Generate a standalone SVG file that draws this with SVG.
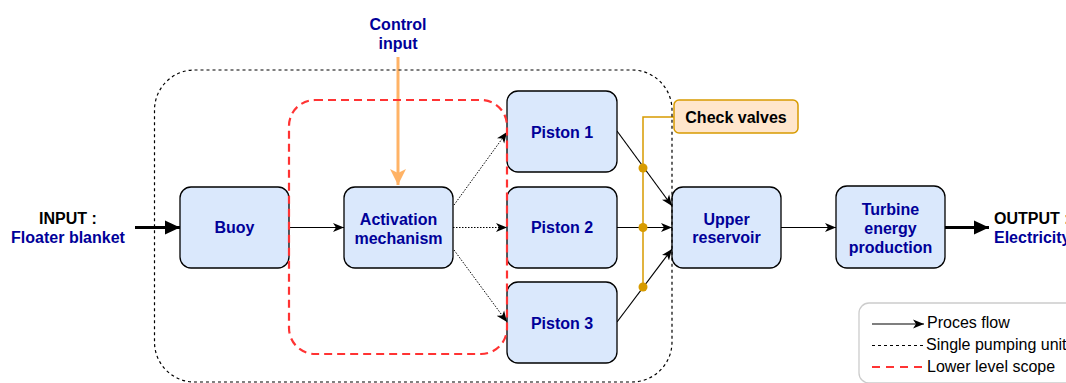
<svg xmlns="http://www.w3.org/2000/svg" width="1066" height="383" viewBox="0 0 1066 383">
<style>
.node rect{fill:#dae8fc;stroke:#000;stroke-width:1.3}
.lbl{font-family:"Liberation Sans",Arial,sans-serif;font-size:16px;font-weight:bold;fill:#000099;text-anchor:middle}
.blk{fill:#000}
.leg{font-family:"Liberation Sans",Arial,sans-serif;font-size:16px;fill:#000}
.flow{stroke:#000;stroke-width:1.2;fill:none}
.dot{stroke:#000;stroke-width:1;stroke-dasharray:1.5 1.5;fill:none}
.cv{stroke:#d79b00;stroke-width:1.5;fill:none}
</style>
<defs>
<marker id="arr" markerUnits="userSpaceOnUse" markerWidth="12" markerHeight="10" refX="11" refY="5" orient="auto">
<path d="M0,0.5 L11,5 L0,9.5 L3,5 Z" fill="#000"/>
</marker>
<marker id="blk" markerUnits="userSpaceOnUse" markerWidth="16" markerHeight="16" refX="15" refY="8" orient="auto">
<path d="M0,1 L15,8 L0,15 Z" fill="#000"/>
</marker>
<marker id="org" markerUnits="userSpaceOnUse" markerWidth="18" markerHeight="18" refX="16" refY="8.5" orient="auto">
<path d="M0,0.5 L16,8.5 L0,16.5 L4,8.5 Z" fill="#ffb366"/>
</marker>
</defs>

<g id="connectors">
<line x1="135" y1="227.5" x2="180" y2="227.5" stroke="#000" stroke-width="3" marker-end="url(#blk)"/>
<line class="flow" x1="289" y1="227.5" x2="344" y2="227.5" marker-end="url(#arr)"/>
<line x1="398" y1="57" x2="398" y2="185" stroke="#ffb366" stroke-width="3" marker-end="url(#org)"/>
<line class="dot" x1="454" y1="205" x2="507" y2="132" marker-end="url(#arr)"/>
<line class="dot" x1="453" y1="227.5" x2="507" y2="227.5" marker-end="url(#arr)"/>
<line class="dot" x1="454" y1="250" x2="507" y2="322" marker-end="url(#arr)"/>
<line class="flow" x1="617" y1="131" x2="672" y2="206" marker-end="url(#arr)"/>
<line class="flow" x1="617" y1="227.5" x2="672" y2="227.5" marker-end="url(#arr)"/>
<line class="flow" x1="617" y1="322" x2="672" y2="249" marker-end="url(#arr)"/>
<line class="flow" x1="781" y1="227.5" x2="836" y2="227.5" marker-end="url(#arr)"/>
<line x1="945" y1="227.5" x2="989" y2="227.5" stroke="#000" stroke-width="3" marker-end="url(#blk)"/>
<path class="cv" d="M674,117 H643 V287"/>
<circle cx="643" cy="168" r="4.5" fill="#d79b00"/>
<circle cx="643" cy="227.5" r="4.5" fill="#d79b00"/>
<circle cx="643" cy="287" r="4.5" fill="#d79b00"/>
</g>

<g id="buoy" class="node"><rect x="180" y="187" width="109" height="81" rx="11"/><text class="lbl" x="234.5" y="233">Buoy</text></g>
<g id="activation" class="node"><rect x="344" y="187" width="109" height="81" rx="11"/><text class="lbl" x="398.5" y="224.5">Activation</text><text class="lbl" x="398.5" y="243.5">mechanism</text></g>
<g id="piston1" class="node"><rect x="507" y="91" width="110" height="81" rx="11"/><text class="lbl" x="562" y="137.5">Piston 1</text></g>
<g id="piston2" class="node"><rect x="507" y="187" width="110" height="81" rx="11"/><text class="lbl" x="562" y="233">Piston 2</text></g>
<g id="piston3" class="node"><rect x="507" y="282" width="110" height="81" rx="11"/><text class="lbl" x="562" y="329">Piston 3</text></g>
<g id="upper" class="node"><rect x="672" y="187" width="109" height="81" rx="11"/><text class="lbl" x="726.5" y="224.5">Upper</text><text class="lbl" x="726.5" y="243">reservoir</text></g>
<g id="turbine" class="node"><rect x="836" y="186" width="109" height="82" rx="11"/><text class="lbl" x="890.5" y="214.5">Turbine</text><text class="lbl" x="890.5" y="233.5">energy</text><text class="lbl" x="890.5" y="252.5">production</text></g>
<g id="checkvalves"><rect x="674" y="100" width="124" height="33" rx="5" fill="#ffe6cc" stroke="#d79b00" stroke-width="1.5"/><text class="lbl" x="736" y="122.5" style="fill:#000">Check valves</text></g>

<g id="control"><text class="lbl" x="398" y="30">Control</text><text class="lbl" x="398" y="49">input</text></g>
<g id="input"><text class="lbl" x="68" y="224" style="fill:#000">INPUT :</text><text class="lbl" x="68" y="243">Floater blanket</text></g>
<g id="output"><text class="lbl" x="994" y="223.5" style="fill:#000;text-anchor:start">OUTPUT :</text><text class="lbl" x="994" y="242.5" style="text-anchor:start">Electricity</text></g>

<g id="single-pumping-unit"><rect x="154.5" y="70" width="517.5" height="312" rx="40" fill="none" stroke="#000" stroke-width="1.2" stroke-dasharray="3 3"/></g>
<g id="lower-level-scope"><rect x="289" y="100" width="218" height="254" rx="26" fill="none" stroke="#ff3333" stroke-width="2.2" stroke-dasharray="8 5"/></g>

<g id="legend">
<rect x="859" y="303" width="230" height="80" rx="10" fill="#fff" stroke="#cccccc" stroke-width="1.3"/>
<line class="flow" x1="872" y1="324" x2="924" y2="324" marker-end="url(#arr)"/>
<text class="leg" x="927" y="328">Proces flow</text>
<line x1="872" y1="345.5" x2="925" y2="345.5" stroke="#000" stroke-width="1" stroke-dasharray="3 3"/>
<text class="leg" x="926" y="350">Single pumping unit</text>
<line x1="872" y1="367" x2="925" y2="367" stroke="#ff3333" stroke-width="2.2" stroke-dasharray="8 6"/>
<text class="leg" x="927" y="372">Lower level scope</text>
</g>
</svg>
